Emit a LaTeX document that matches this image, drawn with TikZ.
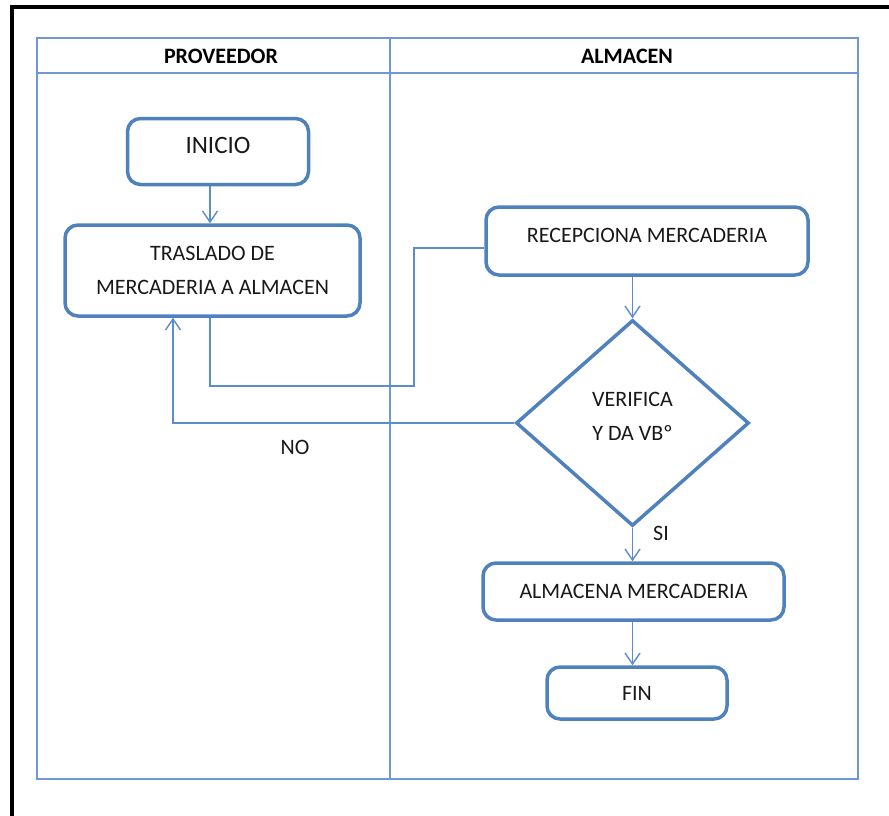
\documentclass[tikz,border=0pt]{standalone}
\usepackage{fontspec}
\setmainfont{Carlito}
\usetikzlibrary{shapes.geometric,arrows.meta,calc}
\definecolor{boxblue}{HTML}{4F81BD}
\definecolor{lineblue}{HTML}{5B8CCB}
\definecolor{laneblue}{HTML}{6F99D2}
\tikzset{
  procbox/.style={draw=boxblue, line width=3.5pt, rounded corners=13pt, fill=white,
    align=center, inner sep=0pt, font=\fontsize{22}{34}\selectfont, text=black!90},
  decbox/.style={draw=boxblue, line width=3.5pt, shape=diamond, fill=white, aspect=1.13,
    align=center, inner sep=0pt, font=\fontsize{22}{34}\selectfont, text=black!90},
  conn/.style={draw=lineblue, line width=1.4pt},
  arr/.style={conn, -{Straight Barb[length=11pt,width=15pt]}},
  lane/.style={draw=laneblue, line width=1.3pt},
  hdr/.style={font=\bfseries\fontsize{22}{26}\selectfont, text=black},
  lbl/.style={font=\fontsize{22}{26}\selectfont, text=black!90}
}
\begin{document}
\begin{tikzpicture}[x=1pt,y=-1pt]
\useasboundingbox (0,0) rectangle (889,816);
% outer black frame
\draw[line width=4pt] (12,830) -- (12,7) -- (900,7);
% swimlanes
\draw[lane] (37,38) rectangle (858,779);
\draw[lane] (37,73) -- (858,73);
\draw[lane] (390,38) -- (390,779);
\node[hdr] (hprov) at (221,56) {PROVEEDOR};
\node[hdr] (halm) at (627,56) {ALMACEN};
% nodes
\node[procbox, minimum width=181pt, minimum height=66pt] (inicio) at (218,151.5) {\fontsize{25}{30}\selectfont INICIO\\[-21pt]};
\node[procbox, minimum width=295pt, minimum height=91pt] (traslado) at (212.5,270.5) {TRASLADO DE\\MERCADERIA A ALMACEN};
\node[procbox, minimum width=322pt, minimum height=68pt] (recep) at (647,241) {RECEPCIONA MERCADERIA\\[-22pt]};
\node[decbox, minimum width=233pt, minimum height=206pt] (dec) at (632.5,423) {VERIFICA\\Y DA VBº\\[-20pt]};
\node[procbox, minimum width=301pt, minimum height=57pt] (alm) at (633.5,591.5) {ALMACENA MERCADERIA};
\node[procbox, minimum width=180pt, minimum height=52pt] (fin) at (637,693) {FIN};
\coordinate (bend1) at (414,386);
% connectors
\draw[arr] (inicio.south -| 210,0) -- (traslado.north -| 210,0);
\draw[conn] (traslado.south -| 210,0) |- (bend1) |- ([yshift=-7pt]recep.west);
\draw[arr] (recep.south -| dec.north) -- (dec.north);
\draw[arr] (dec.west) -| (traslado.south -| 173,0);
\draw[arr] (dec.south) -- (dec.south |- alm.north);
\draw[arr] (alm.south -| dec.south) -- (fin.north -| dec.south);
% labels
\node[lbl] (no) at (295,447) {NO};
\node[lbl] (si) at (661,533) {SI};
\end{tikzpicture}
\end{document}
